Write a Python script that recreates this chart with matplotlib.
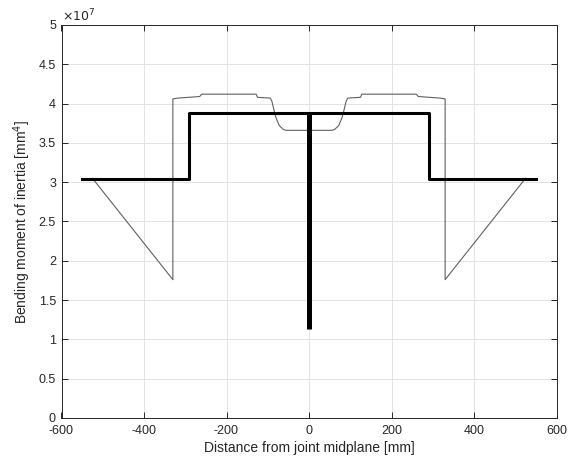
import matplotlib
matplotlib.use("Agg")
import matplotlib.pyplot as plt
import numpy as np

plt.rcParams['font.family'] = ['Liberation Sans', 'DejaVu Sans']
plt.rcParams['axes.unicode_minus'] = False

# thick (model) line, units of 1e7 mm^4
thick_x = [-550, -290, -290, 0, 0, 290, 290, 550]
thick_y = [3.04, 3.04, 3.88, 3.88, 3.88, 3.88, 3.04, 3.04]
# central dip of thick line
center_x = [0, 0]
center_y = [3.88, 1.13]

# thin (detailed) line, left half then mirrored
thin_left_x = [-525, -330, -330, -318, -265, -260, -128, -125, -94, -90, -85, -80, -72, -62, -55]
thin_left_y = [3.05, 1.76, 4.06, 4.07, 4.09, 4.12, 4.12, 4.08, 4.07, 4.03, 3.92, 3.82, 3.72, 3.67, 3.66]

thin_x = thin_left_x + [-v for v in thin_left_x[::-1]]
thin_y = thin_left_y + thin_left_y[::-1]

xticks = [-600, -400, -200, 0, 200, 400, 600]
yticks = [0, 0.5, 1, 1.5, 2, 2.5, 3, 3.5, 4, 4.5, 5]
yticklabels = ['0', '0.5', '1', '1.5', '2', '2.5', '3', '3.5', '4', '4.5', '5']

W, H = 571, 462
fig = plt.figure(figsize=(W / 100, H / 100), dpi=100)
l, r, t, b = 61.5, 556.5, 25, 418
ax = fig.add_axes([l / W, 1 - b / H, (r - l) / W, (b - t) / H])

ax.plot(thin_x, thin_y, color='#606060', lw=0.8, zorder=3)
ax.plot(thick_x, thick_y, color='black', lw=2.2, zorder=4)
ax.plot(center_x, center_y, color='black', lw=3.6, zorder=5, solid_capstyle='butt')

ax.set_xlim(-600, 600)
ax.set_ylim(0, 5)
ax.set_xticks(xticks)
ax.set_yticks(yticks)
ax.set_yticklabels(yticklabels)
ax.grid(True, color='#e3e3e3', lw=0.7)
ax.set_axisbelow(True)
ax.tick_params(direction='in', length=4, width=0.7, top=True, right=True,
               labelsize=9, colors='#262626')
ax.tick_params(axis='x', pad=5)
ax.tick_params(axis='y', pad=4)
for s in ax.spines.values():
    s.set_color('#262626')
    s.set_linewidth(0.7)

ax.set_xlabel('Distance from joint midplane [mm]', fontsize=10, color='#262626', labelpad=3)
ax.set_ylabel('Bending moment of inertia [mm$^4$]', fontsize=10, color='#262626')
ax.text(0.0, 1.003, r'$\times10^7$', transform=ax.transAxes, fontsize=9,
        ha='left', va='bottom', color='#262626')

fig.savefig('out.png', dpi=100)
